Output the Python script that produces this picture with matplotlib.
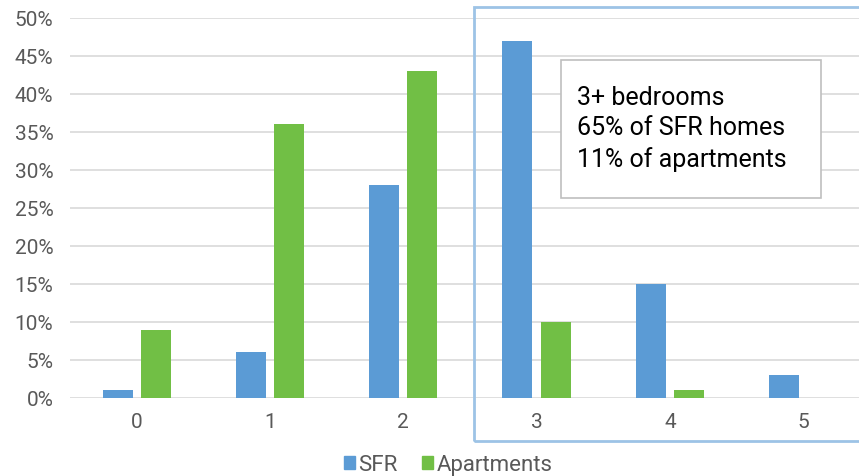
import matplotlib
matplotlib.use('Agg')
import matplotlib.pyplot as plt
from matplotlib.patches import Patch, Rectangle
import numpy as np

plt.rcParams['font.family'] = ['Roboto', 'DejaVu Sans']

bedrooms = ['0', '1', '2', '3', '4', '5']
sfr = [1, 6, 28, 47, 15, 3]
apartments = [9, 36, 43, 10, 1, 0]
y_ticks = [0, 5, 10, 15, 20, 25, 30, 35, 40, 45, 50]
note_lines = ['3+ bedrooms', '65% of SFR homes', '11% of apartments']

blue = '#5B9BD5'
green = '#71BF45'
W, H = 859, 477

fig = plt.figure(figsize=(W / 100, H / 100), dpi=100)
ax = fig.add_axes([70 / W, 1 - 399 / H, 1 - 70 / W, (399 - 19) / H])

x = np.arange(len(bedrooms))
w = 0.225
ax.bar(x - 0.143, sfr, w, color=blue, label='SFR', zorder=3)
ax.bar(x + 0.143, apartments, w, color=green, label='Apartments', zorder=3)

ax.set_xlim(-0.5, (W - 70) / 133.3 - 0.5)
ax.set_ylim(0, 50)
ax.set_yticks(y_ticks)
ax.set_yticklabels([f'{v}%' for v in y_ticks])
ax.set_xticks(x)
ax.set_xticklabels(bedrooms)
ax.yaxis.grid(True, color='#D9D9D9', linewidth=1.2, zorder=0)
ax.set_axisbelow(True)
for s in ax.spines.values():
    s.set_visible(False)
ax.tick_params(length=0, labelsize=15, colors='#595959')
ax.tick_params(axis='y', pad=12)
ax.tick_params(axis='x', pad=10)

# outline around the 3+ bedroom group
fig.patches.append(Rectangle((474 / W, 1 - 442 / H), 400 / W, (442 - 8) / H,
                             transform=fig.transFigure, fill=False,
                             edgecolor='#9DC3E6', linewidth=2, zorder=5))
# note box
fig.patches.append(Rectangle((561 / W, 1 - 199 / H), 260 / W, 138 / H,
                             transform=fig.transFigure, facecolor='white',
                             edgecolor='#BFBFBF', linewidth=1.2, zorder=6))
fig.text(577 / W, 1 - 129 / H, '\n'.join(note_lines), ha='left', va='center',
         fontsize=18, color='black', linespacing=1.36, zorder=7)

handles = [Patch(color=blue), Patch(color=green)]
fig.legend(handles, ['SFR', 'Apartments'], loc='center', ncol=2,
           bbox_to_anchor=(448 / W, 1 - 466 / H), frameon=False,
           fontsize=16, labelcolor='#595959', handlelength=0.5,
           handleheight=0.55, handletextpad=0.15, columnspacing=1.1)

fig.savefig('out.png', dpi=100)
